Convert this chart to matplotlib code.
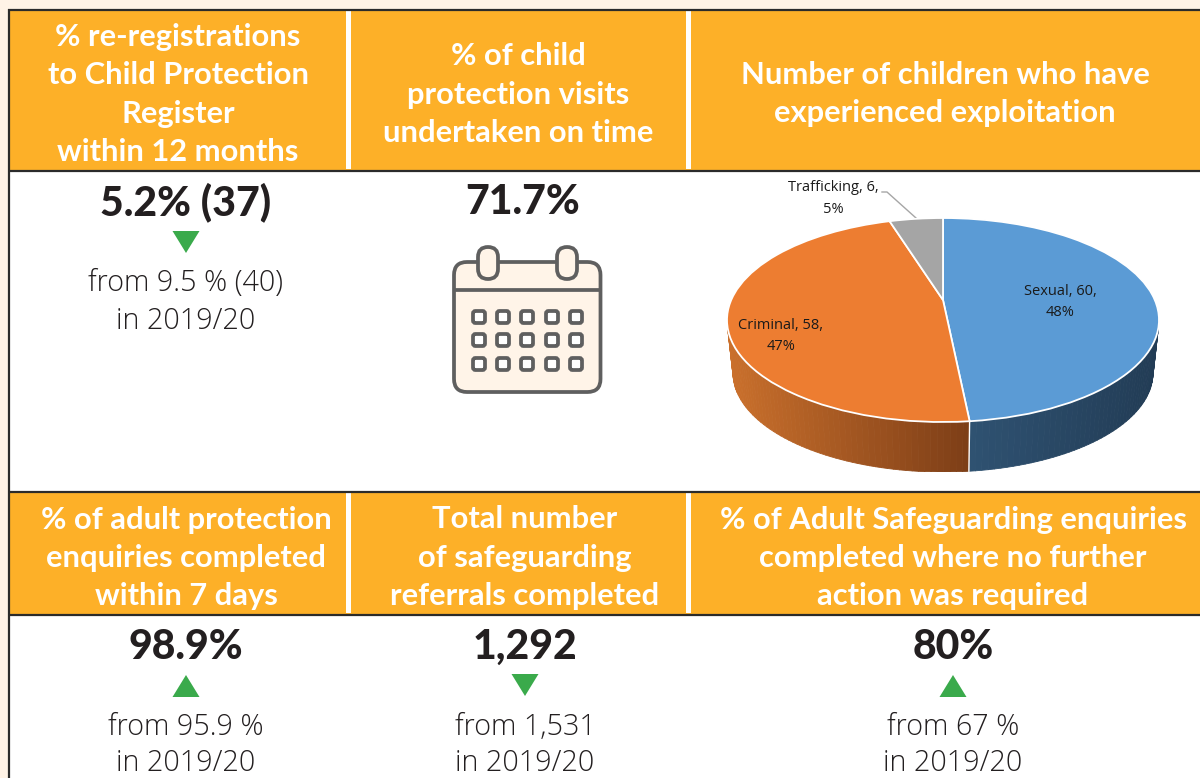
import numpy as np
import matplotlib
matplotlib.use("Agg")
import matplotlib.pyplot as plt
from matplotlib.patches import Rectangle, FancyBboxPatch, Polygon
from matplotlib.collections import PolyCollection
from matplotlib.transforms import Transform
from matplotlib.colors import to_rgb

# ---- data ----
pie_names = ["Sexual", "Criminal", "Trafficking"]
pie_values = [60, 58, 6]
pie_colors = ["#5B9BD5", "#ED7D31", "#A5A5A5"]
rim_left = ["#2F5272", "#CA702C", "#777777"]
rim_right = ["#223C55", "#7D3E17", "#555555"]

headers = [
    ["% re-registrations", "to Child Protection", "Register", "within 12 months"],
    ["% of child", "protection visits", "undertaken on time"],
    ["Number of children who have", "experienced exploitation"],
    ["% of adult protection", "enquiries completed", "within 7 days"],
    ["Total number", "of safeguarding", "referrals completed"],
    ["% of Adult Safeguarding enquiries", "completed where no further", "action was required"],
]
big_values = ["5.2% (37)", "71.7%", "98.9%", "1,292", "80%"]
from_lines = [
    ["from 9.5 % (40)", "in 2019/20"],
    ["from 95.9 %", "in 2019/20"],
    ["from 1,531", "in 2019/20"],
    ["from 67 %", "in 2019/20"],
]

# ---- layout ----
W, H = 1200, 778
ORANGE = "#FDB028"
CREAM = "#FFF3E6"
LINE = "#2B2B2B"
GREY = "#5F5F5F"
GREEN = "#3AAA4B"
HFONT = dict(family="Lato", weight="bold", color="white", fontsize=22.2, ha="center", va="center")

fig = plt.figure(figsize=(W / 100, H / 100), dpi=100, facecolor=CREAM)
ax = fig.add_axes([0, 0, 1, 1])
ax.set_xlim(0, W)
ax.set_ylim(H, 0)
ax.axis("off")

ax.add_patch(Rectangle((9, 10), W - 9, H - 10, fc="white", ec="none"))
for y0, y1 in [(10, 170), (493, 614)]:
    ax.add_patch(Rectangle((9, y0), W - 9, y1 - y0, fc=ORANGE, ec="none"))
    for x in (346, 686):
        ax.add_patch(Rectangle((x, y0), 5, y1 - y0 - 1, fc="white", ec="none"))
for y in (9.5, 170.5, 491.5, 614.5):
    ax.plot([8, W], [y, y], color=LINE, lw=1.6, solid_capstyle="butt")
ax.plot([8.5, 8.5], [9, H], color=LINE, lw=1.6, solid_capstyle="butt")

# header text
header_pos = [(178, [36.5, 74.5, 113.5, 151.5]), (518, [55.5, 94.5, 132.5]), (945, [74.5, 112.5]),
              (186, [519.5, 557.5, 595.5]), (525, [519.5, 557.5, 595.5]), (953, [519.5, 557.5, 595.5])]
for lines, (cx, ys) in zip(headers, header_pos):
    for s, y in zip(lines, ys):
        ax.text(cx, y, s, **HFONT)

# large values
big_pos = [(186, 202), (523, 202), (186, 647), (525, 647), (953, 647)]
for s, (cx, y) in zip(big_values, big_pos):
    ax.text(cx, y, s, family="Lato", weight="black", color="#231F20", fontsize=29.5,
            ha="center", va="center")

# comparison text
from_pos = [(186, 283, 321), (186, 727, 763), (525, 727, 763), (953, 727, 763)]
for lines, (cx, y1, y2) in zip(from_lines, from_pos):
    for s, y in zip(lines, (y1, y2)):
        ax.text(cx, y, s, family="Open Sans", weight="light", color="#231F20", fontsize=20.7,
                ha="center", va="center")

# arrows
def tri(cx, ytop, ybot):
    ax.add_patch(Polygon([(cx - 13.5, ytop), (cx + 13.5, ytop), (cx, ybot)], fc=GREEN, ec="none"))
tri(186, 231, 253)
tri(525, 674, 696)
tri(186, 697, 675)
tri(953, 697, 675)

# calendar icon
ax.add_patch(FancyBboxPatch((454, 262), 146.5, 130, boxstyle="round,pad=0,rounding_size=13",
                            fc="#FFF4E8", ec=GREY, lw=2.7))
ax.plot([454, 600.5], [290, 290], color=GREY, lw=2.7, solid_capstyle="butt")
for x in (478, 557):
    ax.add_patch(FancyBboxPatch((x, 247), 20, 32, boxstyle="round,pad=0,rounding_size=10",
                                fc="#FFF4E8", ec=GREY, lw=2.7))
for cy in (317, 340, 364):
    for cx in (479, 503, 527, 552, 576):
        ax.add_patch(FancyBboxPatch((cx - 6, cy - 6), 12, 12, boxstyle="round,pad=0,rounding_size=2.5",
                                    fc="white", ec=GREY, lw=2.7))

# ---- 3D pie ----
C = 20 / 102  # perspective shift of the apex
RIM_SX, RIM_SY, RIM_DY = 210 / 216, 99 / 102, 53 / 102


def project(xy):
    xy = np.asarray(xy, dtype=float)
    x, y = xy[..., 0], xy[..., 1]
    d = 1 + C * y
    return np.stack([x * np.sqrt(1 - C ** 2) / d, (y + C) / d], axis=-1)


class Perspective(Transform):
    input_dims = 2
    output_dims = 2
    is_affine = False
    has_inverse = False

    def transform_non_affine(self, values):
        return project(values)


px0, px1, py0, py1 = 727, 1159, 218, 472
pax = fig.add_axes([px0 / W, 1 - py1 / H, (px1 - px0) / W, (py1 - py0) / H], zorder=5)
wedges, _ = pax.pie(pie_values, colors=pie_colors, startangle=90, counterclock=False, radius=1,
                    wedgeprops=dict(edgecolor="white", linewidth=1.3))
pax.set_aspect("auto")
pax.set_xlim(-1, 1)
pax.set_ylim(-1 - 50 / 102, 1)
pax.axis("off")
pax.patch.set_alpha(0)
persp = Perspective()
for w in wedges:
    w.set_transform(persp + pax.transData)
    w.set_clip_on(False)
    w.set_zorder(3)

vals = np.asarray(pie_values, dtype=float)
edges = np.concatenate([[0], np.cumsum(vals)]) / vals.sum() * 2 * np.pi
polys, cols = [], []
for i in range(len(vals)):
    a = np.linspace(edges[i], edges[i + 1], 120)
    top = project(np.stack([np.sin(a), np.cos(a)], axis=-1))
    bot = np.stack([top[:, 0] * RIM_SX, top[:, 1] * RIM_SY - RIM_DY], axis=-1)
    c0, c1 = np.array(to_rgb(rim_left[i])), np.array(to_rgb(rim_right[i]))
    xmin = top[top[:, 1] <= 0.02, 0].min() if (top[:, 1] <= 0.02).any() else -1
    xmax = top[top[:, 1] <= 0.02, 0].max() if (top[:, 1] <= 0.02).any() else 1
    for j in range(len(a) - 1):
        if top[j, 1] > 0.02 and top[j + 1, 1] > 0.02:
            continue
        polys.append([top[j], top[j + 1], bot[j + 1], bot[j]])
        t = np.clip((0.5 * (top[j, 0] + top[j + 1, 0]) - xmin) / max(xmax - xmin, 1e-6), 0, 1)
        cols.append(c0 + (c1 - c0) * t)
    # seam between slices on the visible rim
    if top[-1, 1] < 0:
        pax.plot([top[-1, 0], bot[-1, 0]], [top[-1, 1], bot[-1, 1]], color="white", lw=1.0,
                 zorder=2.5, clip_on=False)
pax.add_collection(PolyCollection(polys, facecolors=cols, edgecolors=cols, linewidths=0.6, zorder=2))

# pie labels
total = vals.sum()
label_pos = [(1060, 291, 312), (781, 325, 346), (833, 187, 209)]
for name, v, (cx, y1, y2) in zip(pie_names, pie_values, label_pos):
    pct = round(v / total * 100)
    for s, y in zip((f"{name}, {v},", f"{pct}%"), (y1, y2)):
        pax.text(cx, y, s, transform=ax.transData, family="Open Sans", color="#1A1A1A", fontsize=10.5,
                 ha="center", va="center", zorder=6, clip_on=False)
ax.plot([882, 887, 916], [192, 192, 218], color="#A6A6A6", lw=1.0)

fig.savefig("out.png", dpi=100, facecolor=CREAM)
